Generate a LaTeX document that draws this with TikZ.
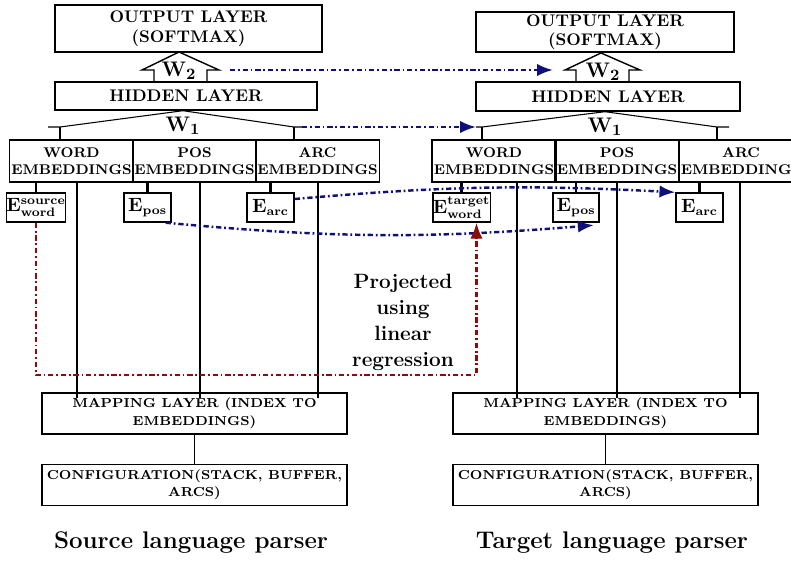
\documentclass[tikz,border=0pt]{standalone}
\usetikzlibrary{arrows.meta,positioning}

\definecolor{projblue}{RGB}{16,16,125}
\definecolor{regred}{RGB}{140,12,12}

\newcommand{\boxfont}{\fontsize{8}{10}\selectfont\bfseries}
\newcommand{\layerfont}{\fontsize{9.6}{11.5}\selectfont\bfseries}
\newcommand{\mapfont}{\fontsize{7.4}{10}\selectfont\bfseries}
\newcommand{\vecfont}{\fontsize{10.5}{12}\selectfont}
\newcommand{\wfont}{\fontsize{12.5}{14}\selectfont}
\newcommand{\capfont}{\fontsize{13.7}{16}\selectfont\bfseries}
\newcommand{\notefont}{\fontsize{11.8}{14.8}\selectfont\bfseries}

\begin{document}
\begin{tikzpicture}[
    x=0.02cm, y=-0.02cm,
    layer/.style={draw,thick,align=center,inner sep=1pt,font=\boxfont},
    emb/.style={layer,minimum width=2.34cm,minimum height=0.84cm},
    mapbox/.style={layer,font=\mapfont,minimum width=6.1cm,minimum height=0.82cm},
    vec/.style={draw,thick,inner sep=0pt,minimum height=0.58cm,font=\vecfont},
    weight/.style={font=\wfont,inner sep=1pt},
    wire/.style={semithick},
    stub/.style={line width=1.3pt},
    dashdot/.style={line width=1.4pt,dash pattern=on 3pt off 1.6pt on 1pt off 1.6pt},
    proj/.style={draw=projblue,dashdot,-{Latex[length=9pt,width=7pt]}},
    regr/.style={draw=regred,dashdot,-{Latex[length=9pt,width=7pt]}}
]
    \useasboundingbox (0,0) rectangle (791,561);

    % Source language parser
    \node[layer,font=\layerfont,minimum width=5.34cm,minimum height=0.94cm] (outL) at (188.5,28.5) {OUTPUT LAYER\\(SOFTMAX)};
    \node[layer,font=\layerfont,minimum width=5.24cm,minimum height=0.56cm] (hidL) at (186,96) {HIDDEN LAYER};
    \node[emb] (wordL) at (71.5,161) {WORD\\EMBEDDINGS};
    \node[emb] (posL) at (194.5,161) {POS\\EMBEDDINGS};
    \node[emb] (arcL) at (317.5,161) {ARC\\EMBEDDINGS};
    \node[vec,minimum width=1.16cm] (ewL) at (36,207.5) {$\mathbf{E}^{\mathbf{source}}_{\mathbf{word}}$};
    \node[vec,minimum width=0.94cm] (epL) at (147.5,207.5) {$\mathbf{E}_{\mathbf{pos}}$};
    \node[vec,minimum width=0.94cm] (eaL) at (270.5,207.5) {$\mathbf{E}_{\mathbf{arc}}$};
    \node[mapbox] (mapL) at (194.5,413.5) {MAPPING LAYER (INDEX TO\\EMBEDDINGS)};
    \node[mapbox] (cfgL) [below=0.58cm of mapL] {CONFIGURATION(STACK, BUFFER,\\ARCS)};
    \node[font=\capfont] (capL) at (191,543) {Source language parser};

    % Target language parser
    \node[layer,font=\fontsize{9.6}{10.5}\selectfont\bfseries,minimum width=5.16cm,minimum height=0.8cm] (outR) at (605,32) {OUTPUT LAYER\\(SOFTMAX)};
    \node[layer,font=\layerfont,minimum width=5.28cm,minimum height=0.58cm] (hidR) at (608,96.5) {HIDDEN LAYER};
    \node[emb,minimum width=2.32cm] (wordR) at (494,161) {WORD\\EMBEDDINGS};
    \node[emb,minimum width=2.36cm] (posR) at (617,161) {POS\\EMBEDDINGS};
    \node[emb,minimum width=2.36cm] (arcR) at (741,161) {ARC\\EMBEDDINGS};
    \node[vec,minimum width=1.06cm] (ewR) at (461.5,207.5) {$\mathbf{E}^{\mathbf{target}}_{\mathbf{word}}$};
    \node[vec,minimum width=0.92cm] (epR) at (576,207.5) {$\mathbf{E}_{\mathbf{pos}}$};
    \node[vec,minimum width=0.94cm] (eaR) at (699.5,207.5) {$\mathbf{E}_{\mathbf{arc}}$};
    \node[mapbox] (mapR) at (605.5,413.5) {MAPPING LAYER (INDEX TO\\EMBEDDINGS)};
    \node[mapbox] (cfgR) [below=0.58cm of mapR] {CONFIGURATION(STACK, BUFFER,\\ARCS)};
    \node[font=\capfont] (capR) at (612,543) {Target language parser};

    % W2 block arrows
    \draw[thick] (154,82) -- (154,70) -- (142,70) -- (179,52) -- (219,70) coordinate (hL) -- (207,70) -- (207,82);
    \draw[thick] (576,82) -- (576,70) -- (565,70) coordinate (hR) -- (601,53) -- (640,70) -- (629,70) -- (629,82);
    \node[weight] (w2L) at (179,71) {$\mathbf{W}_{\mathbf{2}}$};
    \node[weight] (w2R) at (603,72) {$\mathbf{W}_{\mathbf{2}}$};

    % W1 roofs
    \coordinate (rL1) at (48,127);  \coordinate (rL2) at (60,127);
    \coordinate (rL3) at (294,127); \coordinate (rL4) at (302,127);
    \coordinate (rR1) at (476,127); \coordinate (rR2) at (482,127);
    \coordinate (rR3) at (717,127); \coordinate (rR4) at (729,127);
    \draw[wire] (rL1) -- (rL2) -- ([xshift=-0.06cm]hidL.south) -- (rL3) -- (rL4);
    \draw[wire] (rL2) -- (rL2 |- wordL.north);
    \draw[wire] (rL3) -- (rL3 |- arcL.north);
    \draw[wire] (rR1) -- (rR2) -- ([xshift=-0.06cm]hidR.south) -- (rR3) -- (rR4);
    \draw[wire] (rR2) -- (rR2 |- wordR.north);
    \draw[wire] (rR3) -- (rR3 |- arcR.north);
    \node[weight] (w1L) at (183,126) {$\mathbf{W}_{\mathbf{1}}$};
    \node[weight] (w1R) at (605,127) {$\mathbf{W}_{\mathbf{1}}$};

    % embeddings to lookups and mapping layer
    \foreach \v/\e in {ewL/wordL,epL/posL,eaL/arcL,ewR/wordR,epR/posR,eaR/arcR}
        \draw[stub] (\v.north) -- (\v.north |- \e.south);
    \foreach \e/\m/\dx in {wordL/mapL/0.11,posL/mapL/0.11,arcL/mapL/0.01,wordR/mapR/0.46,posR/mapR/0,arcR/mapR/-0.02}
        \draw[wire] ([xshift=\dx cm]\e.south) -- ([xshift=\dx cm,yshift=-0.12cm]\e.south |- \m.north);
    \draw[wire] (mapL.south) -- (cfgL.north);
    \draw[wire] (mapR.south) -- (cfgR.north);

    % transfer between parsers
    \draw[proj,shorten <=0.22cm,shorten >=0.24cm] (hL) -- (hR);
    \draw[proj] (rL4) -- (rR1);
    \draw[proj] ([yshift=0.17cm]eaL.east) to[bend left=4] (eaR.north west);
    \draw[proj] ([xshift=-0.12cm]epL.south east) to[bend right=5] ([xshift=-0.12cm,yshift=-0.05cm]epR.south east);
    \coordinate (rlow) at (0,375);
    \draw[regr] (ewL.south) -- (ewL.south |- rlow) -| ([xshift=0.3cm]ewR.south);
    \node[font=\notefont,align=center] (note) at (403,322) {Projected\\using\\linear\\regression};
\end{tikzpicture}
\end{document}
